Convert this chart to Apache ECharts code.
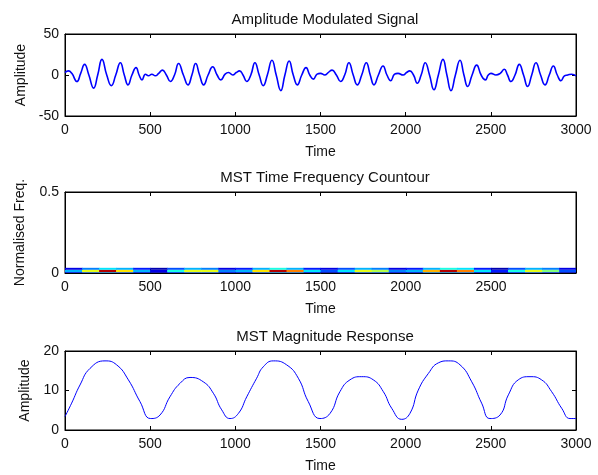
<!DOCTYPE html>
<html>
<head>
<meta charset="utf-8">
<script src="https://cdn.jsdelivr.net/npm/echarts@6/dist/echarts.min.js"></script>
<style>
    html, body {margin:0; padding:0; background:#fff;}
    #main {width:598px; height:475px;}
</style>
</head>
<body>
<div id="main"></div>
<script>
// amplitude modulated signal (time, amplitude)
var sigT = [0,20,40,70,92,115,140,168,192,217,245,272,298,325,348,370,393,417,435,452,472,490,510,530,550,572,595,619,643,667,695,722,745,767,790,814,840,867,893,915,940,960,985,1005,1025,1045,1067,1091,1115,1140,1164,1188,1215,1240,1267,1291,1316,1340,1364,1390,1415,1437,1458,1480,1500,1525,1545,1568,1593,1618,1642,1667,1692,1716,1742,1769,1792,1814,1840,1867,1890,1912,1935,1955,1985,2005,2024,2046,2068,2091,2115,2140,2166,2192,2219,2242,2266,2292,2319,2342,2364,2390,2417,2443,2468,2485,2501,2530,2555,2579,2598,2618,2642,2667,2692,2716,2740,2765,2792,2818,2843,2867,2890,2912,2932,2951,2975,3000];
var sigV = [3,5,2,-8,2,13,0,-16,0,19,0,-13,0,15,0,-12,0,9,0,-6,1,-1,1,-1,2,6,0,-8,0,14,0,-12,0,14,0,-12,0,10,0,-6,1,3,0,3,5,0,-8,0,15,0,-13,0,18,0,-19,0,17,0,-12,0,9,0,-5,1,2,0,3,6,0,-8,0,15,0,-12,0,15,0,-12,0,11,0,-7,1,2,0,3,5,0,-10,0,15,0,-18,0,19,0,-19,0,18,0,-14,0,12,0,-6,0,2,0,2,7,0,-8,0,13,0,-14,0,15,0,-12,0,11,0,-7,-1,0,1,-1];

// MST contour: time bins (start of each 100-sample bin), frequency row edges, intensity per row
var binT = [0,100,200,300,400,500,600,700,800,900,1000,1100,1200,1300,1400,1500,1600,1700,1800,1900,2000,2100,2200,2300,2400,2500,2600,2700,2800,2900];
var freqEdges = [0, 0.005, 0.02, 0.032];
var bandLow = [0.1,0.2,0.3,0.2,0.1,0.05,0.15,0.2,0.2,0.1,0.1,0.2,0.3,0.25,0.1,0.05,0.1,0.2,0.2,0.1,0.1,0.25,0.3,0.25,0.1,0.05,0.15,0.2,0.15,0.05];
var bandMain = [0.3,0.6,0.95,0.65,0.3,0.1,0.4,0.6,0.6,0.25,0.3,0.65,0.95,0.75,0.35,0.2,0.35,0.6,0.55,0.25,0.3,0.7,0.95,0.75,0.35,0.15,0.4,0.6,0.5,0.2];
var bandTop = [0.1,0.25,0.35,0.3,0.15,0.05,0.2,0.3,0.25,0.1,0.15,0.3,0.4,0.3,0.15,0.1,0.2,0.3,0.25,0.1,0.15,0.3,0.4,0.35,0.15,0.05,0.2,0.3,0.25,0.1];

// MST magnitude response
var magT = [0,39,88,147,235,303,372,440,503,558,616,675,734,812,871,920,969,1018,1067,1125,1164,1223,1301,1370,1428,1497,1556,1614,1673,1742,1810,1869,1918,1977,2025,2074,2133,2192,2250,2319,2388,2446,2495,2554,2603,2661,2730,2798,2857,2916,2965,3000];
var magV = [3.4,6.8,11.4,15.6,17.5,16.5,12.7,7.2,2.9,3.8,8.4,11.8,13.3,12.2,9.3,5.1,2.9,4.2,8.4,13.1,16,17.5,16.5,13.1,7.2,2.9,4.2,9.7,12.7,13.5,12.7,9.7,5.5,2.7,4.2,10.1,14.3,17,17.5,16.5,12.2,6.8,2.9,3.8,8.9,12.7,13.5,12.7,9.7,5.5,2.9,2.9];

function pairs(xs, ys) {
    var out = [];
    for (var i = 0; i < xs.length; i++) {
        out.push([xs[i], ys[i]]);
    }
    return out;
}

function bandCells() {
    var rows = [bandLow, bandMain, bandTop];
    var cells = [];
    for (var r = 0; r < rows.length; r++) {
        for (var i = 0; i < binT.length; i++) {
            var t1 = i + 1 < binT.length ? binT[i + 1] : 2999;
            cells.push([binT[i], t1, freqEdges[r], freqEdges[r + 1], rows[r][i]]);
        }
    }
    return cells;
}

function renderCell(params, api) {
    var p0 = api.coord([api.value(0), api.value(2)]);
    var p1 = api.coord([api.value(1), api.value(3)]);
    return {
        type: 'rect',
        shape: {x: p0[0], y: p1[1], width: p1[0] - p0[0] + 0.5, height: p0[1] - p1[1]},
        style: {fill: api.visual('color')}
    };
}

function plain(v) {
    return String(v);
}

var font = 'Liberation Sans';
var txt = '#111';

function xAx(grid, max, name, top) {
    return {
        type: 'value', gridIndex: grid, min: 0, max: max, interval: 500,
        position: top ? 'top' : 'bottom',
        name: top ? '' : name, nameLocation: 'middle', nameGap: 29,
        nameTextStyle: {fontFamily: font, fontSize: 14, color: txt},
        axisLine: {show: true, onZero: false, lineStyle: {color: '#000'}},
        axisTick: {show: true, inside: true, length: 4, lineStyle: {color: '#000'}},
        axisLabel: {show: !top, margin: 7, fontFamily: font, fontSize: 14, color: txt,
            showMaxLabel: max === 3000, formatter: plain},
        splitLine: {show: false}
    };
}

function yAx(grid, min, max, interval, name, gap, right) {
    return {
        type: 'value', gridIndex: grid, min: min, max: max, interval: interval,
        position: right ? 'right' : 'left',
        name: right ? '' : name, nameLocation: 'middle', nameGap: gap,
        nameTextStyle: {fontFamily: font, fontSize: 14, color: txt},
        axisLine: {show: true, onZero: false, lineStyle: {color: '#000'}},
        axisTick: {show: true, inside: true, length: 4, lineStyle: {color: '#000'}},
        axisLabel: {show: !right, margin: 6, fontFamily: font, fontSize: 14, color: txt, formatter: plain},
        splitLine: {show: false}
    };
}

var myChart = echarts.init(document.getElementById('main'));
var option = {
    backgroundColor: '#FFFFFF',
    animation: false,
    title: [
        {text: 'Amplitude Modulated Signal', left: 320, top: 7, textAlign: 'center',
            textStyle: {fontFamily: font, fontSize: 15, fontWeight: 'normal', color: txt}},
        {text: 'MST Time Frequency Countour', left: 320, top: 165, textAlign: 'center',
            textStyle: {fontFamily: font, fontSize: 15, fontWeight: 'normal', color: txt}},
        {text: 'MST Magnitude Response', left: 320, top: 324, textAlign: 'center',
            textStyle: {fontFamily: font, fontSize: 15, fontWeight: 'normal', color: txt}}
    ],
    grid: [
        {left: 65, top: 34, width: 511, height: 82, show: true, borderColor: '#000', borderWidth: 1},
        {left: 65, top: 192, width: 511, height: 81, show: true, borderColor: '#000', borderWidth: 1},
        {left: 65, top: 351, width: 511, height: 79, show: true, borderColor: '#000', borderWidth: 1}
    ],
    xAxis: [
        xAx(0, 3000, 'Time', false),
        xAx(1, 2999, 'Time', false),
        xAx(2, 3000, 'Time', false),
        xAx(0, 3000, '', true),
        xAx(1, 2999, '', true),
        xAx(2, 3000, '', true)
    ],
    yAxis: [
        yAx(0, -50, 50, 50, 'Amplitude', 37, false),
        yAx(1, 0, 0.5, 0.5, 'Normalised Freq.', 38, false),
        yAx(2, 0, 20, 10, 'Amplitude', 30, false),
        yAx(0, -50, 50, 50, '', 0, true),
        yAx(1, 0, 0.5, 0.5, '', 0, true),
        yAx(2, 0, 20, 10, '', 0, true)
    ],
    visualMap: {
        type: 'continuous', show: false, seriesIndex: 1, dimension: 4, min: 0, max: 1,
        inRange: {color: ['#00007f','#0000ff','#0080ff','#00ffff','#80ff80','#ffff00','#ff8000','#ff0000','#800000']}
    },
    series: [
        {
            name: 'signal', type: 'line', xAxisIndex: 0, yAxisIndex: 0,
            data: pairs(sigT, sigV), smooth: 0.5, symbol: 'none',
            lineStyle: {color: '#0000ff', width: 1.6}
        },
        {
            name: 'contour', type: 'custom', xAxisIndex: 1, yAxisIndex: 1,
            data: bandCells(), renderItem: renderCell, clip: true,
            encode: {x: [0, 1], y: [2, 3]}
        },
        {
            name: 'magnitude', type: 'line', xAxisIndex: 2, yAxisIndex: 2,
            data: pairs(magT, magV), smooth: 0.5, symbol: 'none',
            lineStyle: {color: '#0000ff', width: 1}
        }
    ]
};
myChart.setOption(option);
</script>
</body>
</html>
